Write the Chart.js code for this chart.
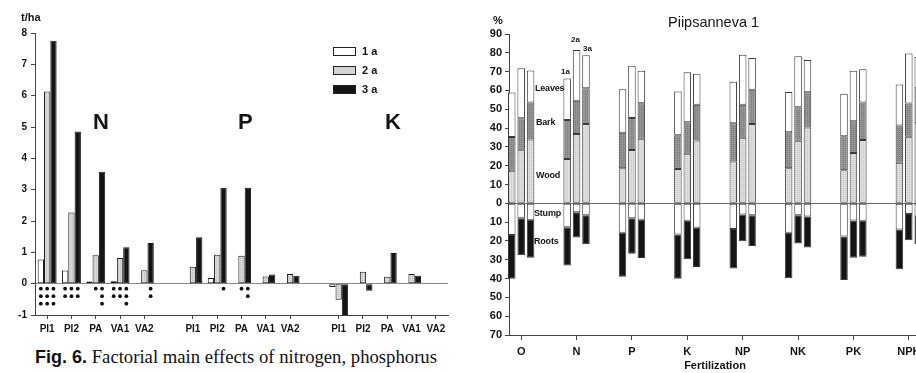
<!DOCTYPE html>
<html><head><meta charset="utf-8">
<script src="https://cdn.jsdelivr.net/npm/chart.js@4.4.1/dist/chart.umd.min.js"></script>
<style>
html,body{margin:0;padding:0;background:#fff;}
#wrap{position:relative;width:916px;height:373px;overflow:hidden;background:#fff;font-family:"Liberation Sans",Arial,sans-serif;color:#141414;}
#c1{position:absolute;left:0;top:0;}
#c2{position:absolute;left:455px;top:0;}
.t{position:absolute;white-space:nowrap;line-height:1;}
.b{font-weight:bold;}
.box{position:absolute;width:21px;height:7px;border:1px solid #222;}
#cap{position:absolute;left:35px;top:348px;white-space:nowrap;font-family:"Liberation Serif","Times New Roman",serif;font-size:18.7px;line-height:18.7px;color:#111;}
#cap span{font-family:"Liberation Sans",Arial,sans-serif;font-weight:bold;font-size:18px;}
</style></head><body>
<div id="wrap">
<canvas id="c1" width="460" height="345"></canvas>
<canvas id="c2" width="480" height="373"></canvas>

<div class="t b" style="left:21px;top:11.6px;font-size:11px;">t/ha</div>
<div class="t b" style="left:93px;top:111px;font-size:22px;">N</div>
<div class="t b" style="left:238px;top:111px;font-size:22px;">P</div>
<div class="t b" style="left:385px;top:111px;font-size:22px;">K</div>

<div class="box" style="left:333px;top:47px;background:#fff;"></div>
<div class="box" style="left:333px;top:66px;background:#d4d4d4;"></div>
<div class="box" style="left:333px;top:85px;background:#141414;"></div>
<div class="t b" id="lt1" style="left:362px;top:45.6px;font-size:11px;"></div>
<div class="t b" id="lt2" style="left:362px;top:64.6px;font-size:11px;"></div>
<div class="t b" id="lt3" style="left:362px;top:83.6px;font-size:11px;"></div>

<div class="t b" style="left:493px;top:14.6px;font-size:11px;">%</div>
<div class="t" style="left:668px;top:15px;font-size:14.5px;">Piipsanneva 1</div>
<div class="t b" style="left:561px;top:67.6px;font-size:8px;">1a</div>
<div class="t b" style="left:571px;top:36px;font-size:8px;">2a</div>
<div class="t b" style="left:583px;top:45px;font-size:8px;">3a</div>
<div class="t b" style="left:535px;top:83.6px;font-size:9px;letter-spacing:-0.2px;">Leaves</div>
<div class="t b" style="left:536px;top:117.6px;font-size:9px;letter-spacing:-0.2px;">Bark</div>
<div class="t b" style="left:536px;top:170.6px;font-size:9px;letter-spacing:-0.2px;">Wood</div>
<div class="t b" style="left:534px;top:208.6px;font-size:9px;letter-spacing:-0.2px;">Stump</div>
<div class="t b" style="left:534px;top:236.6px;font-size:9px;letter-spacing:-0.2px;">Roots</div>

<div id="cap"><span>Fig. 6.</span> Factorial main effects of nitrogen, phosphorus</div>
</div>
<script>
// ---------- Left chart: factorial main effects (t/ha) ----------
const effectCategories = ['PI1','PI2','PA','VA1','VA2','', 'PI1','PI2','PA','VA1','VA2','', 'PI1','PI2','PA','VA1','VA2'];
const effectSeries = ['1 a','2 a','3 a'];
const effect1a = [0.77, 0.42, 0.07, 0.08, 0.02, null, -0.02, 0.18, 0.02, -0.01, 0.01, null, -0.11, -0.02, 0.01, 0.01, 0.01];
const effect2a = [6.13, 2.27, 0.91, 0.82, 0.43, null, 0.54, 0.92, 0.89, 0.23, 0.31, null, -0.51, 0.38, 0.22, 0.31, 0.02];
const effect3a = [7.75, 4.86, 3.57, 1.16, 1.30, null, 1.48, 3.06, 3.06, 0.29, 0.25, null, -1.00, -0.23, 0.98, 0.25, 0.01];
// number of significance dots under each bar
const sig1a = [3, 2, 0, 2, 0, 0, 0, 0, 0, 0, 0, 0, 0, 0, 0, 0, 0];
const sig2a = [3, 2, 1, 2, 0, 0, 0, 0, 1, 0, 0, 0, 0, 0, 0, 0, 0];
const sig3a = [3, 2, 3, 3, 2, 0, 0, 1, 2, 0, 0, 0, 0, 0, 0, 0, 0];
const effectTicks = [-1, 0, 1, 2, 3, 4, 5, 6, 7, 8];

// ---------- Right chart: Piipsanneva 1 biomass distribution (%) ----------
const fertCategories = ['O','N','P','K','NP','NK','PK','NPK'];
const ages = ['1a','2a','3a'];
const wood1a   = [17.3, 23.6, 18.7, 18.2, 22.2, 18.7, 17.6, 21.5];
const bark1a   = [17.9, 20.7, 18.8, 18.0, 20.3, 19.1, 18.1, 19.8];
const leaves1a = [23.7, 22.1, 23.1, 23.2, 22.1, 21.4, 22.5, 21.9];
const stump1a  = [16.8, 12.7, 15.7, 16.6, 13.6, 15.7, 17.7, 13.9];
const roots1a  = [23.3, 20.3, 23.4, 23.5, 21.0, 24.2, 23.1, 21.2];
const wood2a   = [28.5, 36.9, 28.3, 26.4, 34.8, 33.2, 26.8, 35.4];
const bark2a   = [16.7, 17.6, 17.1, 16.7, 17.6, 17.8, 16.8, 17.7];
const leaves2a = [26.6, 27.0, 27.7, 26.6, 26.6, 27.2, 26.8, 26.6];
const stump2a  = [8.0, 4.8, 8.0, 9.3, 5.9, 6.3, 9.1, 5.7];
const roots2a  = [19.6, 13.4, 18.8, 20.5, 14.3, 15.1, 19.8, 13.9];
const wood3a   = [33.9, 42.2, 34.3, 33.4, 42.2, 40.3, 33.6, 42.5];
const bark3a   = [19.7, 18.9, 18.9, 19.0, 18.1, 18.7, 20.0, 18.6];
const leaves3a = [17.0, 17.6, 17.2, 16.5, 17.0, 17.2, 17.7, 16.7];
const stump3a  = [8.8, 6.3, 8.8, 13.0, 6.3, 7.0, 9.3, 6.6];
const roots3a  = [20.1, 15.5, 20.3, 20.9, 16.4, 16.5, 19.1, 15.2];
const percentTicks = [90, 80, 70, 60, 50, 40, 30, 20, 10, 0, -10, -20, -30, -40, -50, -60, -70];

// ---------- helpers ----------
const FONT = '"Liberation Sans", Arial, sans-serif';
Chart.defaults.font.family = FONT;
Chart.defaults.color = '#141414';

function makePattern(base, dot) {
  const c = document.createElement('canvas');
  c.width = 2; c.height = 2;
  const g = c.getContext('2d');
  g.fillStyle = base; g.fillRect(0, 0, 2, 2);
  g.fillStyle = dot; g.fillRect(0, 0, 1, 1);
  return g.createPattern(c, 'repeat');
}
const lightPat = makePattern('#dadada', '#bdbdbd');
const woodPat = makePattern('#dedede', '#c6c6c6');
const barkPat = makePattern('#949494', '#7a7a7a');

document.getElementById('lt1').textContent = effectSeries[0];
document.getElementById('lt2').textContent = effectSeries[1];
document.getElementById('lt3').textContent = effectSeries[2];

// ---------- left chart ----------
const sigSeries = [sig1a, sig2a, sig3a];
const sigPlugin = {
  id: 'sigDots',
  afterDatasetsDraw(chart) {
    const ctx = chart.ctx;
    const zero = chart.scales.y.getPixelForValue(0);
    ctx.save();
    ctx.fillStyle = '#111';
    sigSeries.forEach((arr, s) => {
      const meta = chart.getDatasetMeta(s);
      arr.forEach((n, i) => {
        const bar = meta.data[i];
        if (!bar || !n) return;
        for (let k = 0; k < n; k++) {
          ctx.beginPath();
          ctx.arc(bar.x, zero + 5 + k * 7.5, 1.9, 0, Math.PI * 2);
          ctx.fill();
        }
      });
    });
    ctx.restore();
  }
};

new Chart(document.getElementById('c1'), {
  type: 'bar',
  data: {
    labels: effectCategories,
    datasets: [
      { label: effectSeries[0], data: effect1a, backgroundColor: '#ffffff' },
      { label: effectSeries[1], data: effect2a, backgroundColor: lightPat },
      { label: effectSeries[2], data: effect3a, backgroundColor: '#141414' }
    ]
  },
  options: {
    responsive: false, animation: false, devicePixelRatio: 1,
    layout: { padding: { top: 33, right: 12, bottom: 0, left: 0 } },
    datasets: { bar: { categoryPercentage: 0.78, barPercentage: 1.0, borderColor: '#1a1a1a', borderWidth: 1, borderSkipped: false, clip: false } },
    plugins: { legend: { display: false }, tooltip: { enabled: false } },
    scales: {
      x: {
        offset: true,
        grid: { display: true, drawOnChartArea: false, offset: false, tickLength: 4, color: '#333',
                tickColor: (c) => effectCategories[c.index] ? '#444' : 'rgba(0,0,0,0)' },
        border: { display: true, color: '#444', width: 1 },
        ticks: { autoSkip: false, maxRotation: 0, padding: 4, font: { size: 10, weight: 'bold' }, color: '#141414' },
        afterFit: (s) => { s.height = 30; }
      },
      y: {
        min: -1, max: 8,
        afterBuildTicks: (s) => { s.ticks = effectTicks.map(v => ({ value: v })); },
        grid: { color: (c) => (c.tick && c.tick.value === 0) ? '#8a8a8a' : 'rgba(0,0,0,0)', tickColor: '#444', tickLength: 4 },
        border: { display: true, color: '#444', width: 1 },
        ticks: { padding: 4, font: { size: 10, weight: 'bold' }, color: '#141414' },
        afterFit: (s) => { s.width = 35; }
      }
    }
  },
  plugins: [sigPlugin]
});

// ---------- right chart ----------
const parts = [
  { name: 'Wood',   sign: 1,  bg: woodPat,   series: [wood1a, wood2a, wood3a] },
  { name: 'Bark',   sign: 1,  bg: barkPat,   series: [bark1a, bark2a, bark3a] },
  { name: 'Leaves', sign: 1,  bg: '#ffffff', series: [leaves1a, leaves2a, leaves3a] },
  { name: 'Stump',  sign: -1, bg: '#ffffff', series: [stump1a, stump2a, stump3a] },
  { name: 'Roots',  sign: -1, bg: '#141414', series: [roots1a, roots2a, roots3a] }
];
const rightDatasets = [];
ages.forEach((age, a) => {
  parts.forEach(p => {
    rightDatasets.push({
      label: p.name + ' ' + age,
      stack: age,
      data: p.series[a].map((v, i) => ({ x: i, y: p.sign * v })),
      backgroundColor: p.bg
    });
  });
});

new Chart(document.getElementById('c2'), {
  type: 'bar',
  data: { datasets: rightDatasets },
  options: {
    responsive: false, animation: false, devicePixelRatio: 1,
    layout: { padding: { top: 34, right: 14, bottom: 0, left: 0 } },
    datasets: { bar: { categoryPercentage: 0.51, barPercentage: 0.8, borderColor: '#3a3a3a', borderWidth: 1, borderSkipped: false, clip: false } },
    plugins: { legend: { display: false }, tooltip: { enabled: false } },
    scales: {
      x: {
        type: 'linear', min: -0.22, max: 7.22, stacked: true, offset: false,
        afterBuildTicks: (s) => { s.ticks = fertCategories.map((_, i) => ({ value: i })); },
        grid: { display: true, drawOnChartArea: false, offset: false, tickLength: 5, color: '#444' },
        border: { display: true, color: '#444', width: 1 },
        ticks: { autoSkip: false, maxRotation: 0, padding: 5, font: { size: 11, weight: 'bold' }, color: '#141414',
                 callback: (v) => fertCategories[v] },
        title: { display: true, text: 'Fertilization', font: { size: 11, weight: 'bold' }, color: '#141414', padding: { top: 0, bottom: 0 } },
        afterFit: (s) => { s.height = 38; }
      },
      y: {
        min: -70, max: 90, stacked: true,
        afterBuildTicks: (s) => { s.ticks = percentTicks.map(v => ({ value: v })); },
        grid: { color: (c) => (c.tick && c.tick.value === 0) ? '#6a6a6a' : 'rgba(0,0,0,0)', tickColor: '#444', tickLength: 4 },
        border: { display: true, color: '#444', width: 1 },
        ticks: { padding: 3, font: { size: 11, weight: 'bold' }, color: '#141414', callback: (v) => Math.abs(v) },
        afterFit: (s) => { s.width = 54; }
      }
    }
  }
});
</script>
</body></html>
